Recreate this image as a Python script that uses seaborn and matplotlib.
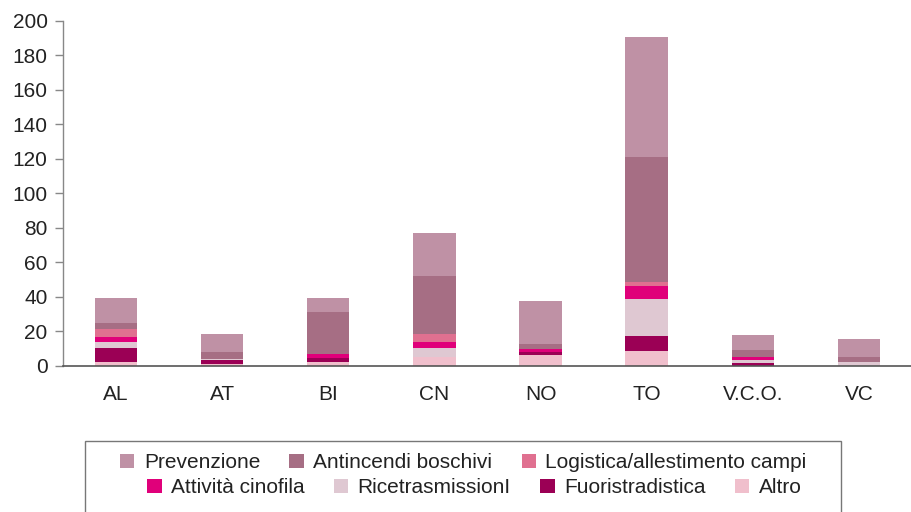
import matplotlib
matplotlib.use("Agg")
import matplotlib.pyplot as plt
from matplotlib.patches import Patch, Rectangle
import seaborn as sns
import pandas as pd
import numpy as np

# dati (volontari per provincia e attività)
province = ["AL", "AT", "BI", "CN", "NO", "TO", "V.C.O.", "VC"]
altro = [2, 1.2, 2, 5, 6, 8.4, 0, 0]
fuoristradistica = [8, 1.8, 2.3, 0, 1.7, 8.7, 1.5, 0]
ricetrasmissioni = [3.5, 1, 0, 5, 0, 21.5, 1.7, 2]
cinofila = [3, 0, 2.4, 3.5, 1.7, 7.5, 1.7, 0]
logistica = [5, 0, 0, 4.7, 0, 2.3, 0, 0]
antincendi = [3, 4, 24.3, 34, 3.4, 72.5, 4.1, 3]
prevenzione = [14.5, 10.5, 8.1, 24.5, 24.5, 70, 8.7, 10.5]

serie = ["Prevenzione", "Antincendi boschivi", "Logistica/allestimento campi",
         "Attività cinofila", "RicetrasmissionI", "Fuoristradistica", "Altro"]
colori = ["#bf91a5", "#a66e84", "#e07090", "#e0007a", "#dfc8d2", "#9b0055", "#f0bfcc"]

df = pd.DataFrame({
    "Provincia": province,
    "Altro": altro,
    "Fuoristradistica": fuoristradistica,
    "RicetrasmissionI": ricetrasmissioni,
    "Attività cinofila": cinofila,
    "Logistica/allestimento campi": logistica,
    "Antincendi boschivi": antincendi,
    "Prevenzione": prevenzione,
})

sns.set_style("white")
plt.rcParams["font.family"] = ["Liberation Sans", "DejaVu Sans"]

fig = plt.figure(figsize=(9.12, 5.12), dpi=100)
ax = fig.add_axes([0.069, 0.286, 0.931, 0.673])

# barre impilate: si disegnano le somme cumulative dall'alto verso il basso
dal_basso = serie[::-1]
cum = df[dal_basso].cumsum(axis=1)
for nome in serie:
    sns.barplot(x=df["Provincia"], y=cum[nome], color=colori[serie.index(nome)],
                width=0.4, saturation=1, ax=ax, linewidth=0)

ax.set_xlim(-0.5, 7.5)
ax.set_ylim(0, 200)
ax.set_yticks(np.arange(0, 201, 20))
ax.set_xlabel("")
ax.set_ylabel("")
ax.set_xticks(np.arange(-0.5, 7.6, 1), minor=True)
ax.tick_params(axis="x", which="major", length=0, labelsize=15, pad=14, colors="#222222")
ax.tick_params(axis="x", which="minor", length=6, width=1, color="#888888", direction="out")
ax.tick_params(axis="y", length=6, width=1, color="#888888", labelsize=15,
               labelcolor="#222222", left=True, direction="out", pad=5)
sns.despine(ax=ax)
ax.spines["left"].set_color("#888888")
ax.spines["bottom"].set_color("#555555")
ax.spines["left"].set_linewidth(1)
ax.spines["bottom"].set_linewidth(1.2)

# legenda su due righe dentro un riquadro
maniglie = [Patch(facecolor=c, edgecolor="none", label=s) for s, c in zip(serie, colori)]
opts = dict(frameon=False, fontsize=15, handlelength=0.7, handleheight=0.7,
            handletextpad=0.45, columnspacing=1.4, borderpad=0, labelcolor="#222222")
fig.legend(handles=maniglie[:3], ncol=3, loc="center",
           bbox_to_anchor=(0.508, 0.096), **opts)
fig.legend(handles=maniglie[3:], ncol=4, loc="center",
           bbox_to_anchor=(0.52, 0.047), **opts)
fig.add_artist(Rectangle((0.093, -0.01), 0.829, 0.149, transform=fig.transFigure,
                         fill=False, edgecolor="#777777", linewidth=1))

fig.savefig("out.png", dpi=100)
